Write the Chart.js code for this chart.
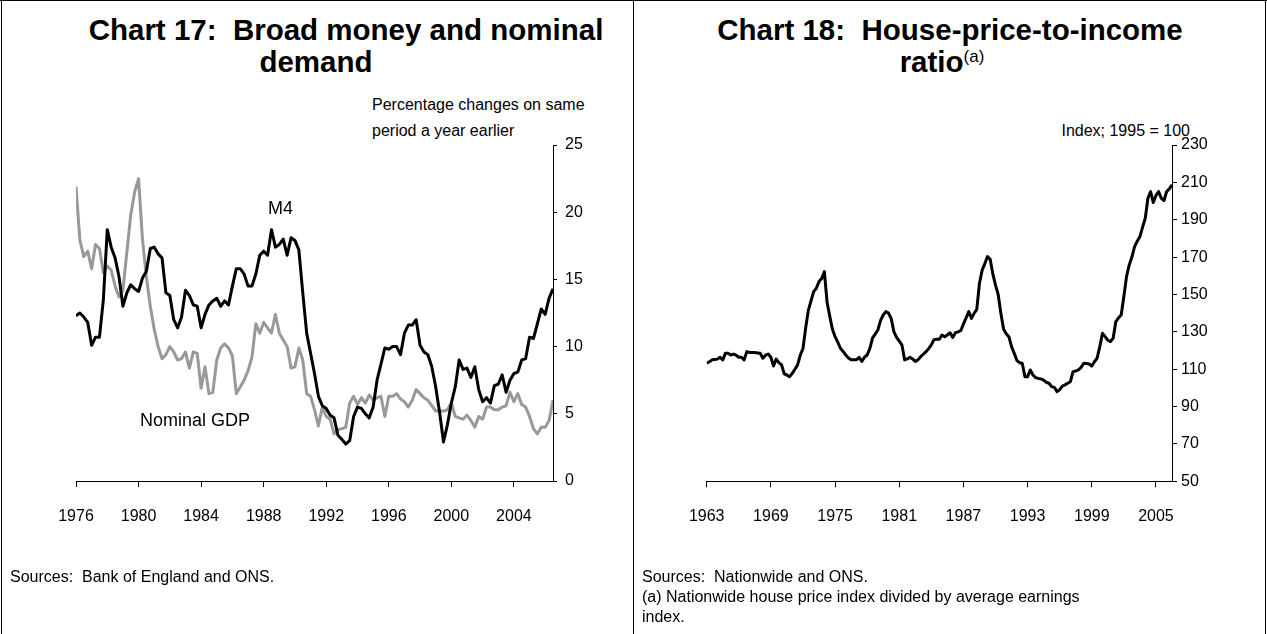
<!DOCTYPE html>
<html>
<head>
<meta charset="utf-8">
<script src="https://cdn.jsdelivr.net/npm/chart.js@4.4.0/dist/chart.umd.min.js"></script>
<style>
  html, body { margin: 0; padding: 0; background: #fff; }
  body { width: 1267px; height: 634px; position: relative; overflow: hidden;
         font-family: Arial, "Liberation Sans", sans-serif; color: #000; }
  .rule { position: absolute; background: #000; }
  .title { position: absolute; font-weight: bold; font-size: 29.5px; line-height: 32px;
           white-space: pre; transform: translateX(-50%); }
  .txt { position: absolute; font-size: 16px; line-height: 20px; white-space: pre; }
  .note { position: absolute; font-size: 18px; line-height: 20px; white-space: pre; }
  canvas { position: absolute; top: 0; }
  sup { font-size: 17px; font-weight: normal; vertical-align: 10px; line-height: 0; }
</style>
</head>
<body>
<div class="rule" style="left:0;top:0;width:1267px;height:1px"></div>
<div class="rule" style="left:1px;top:0;width:1px;height:634px"></div>
<div class="rule" style="left:633px;top:0;width:1px;height:634px"></div>
<div class="rule" style="left:1265px;top:0;width:1px;height:634px"></div>

<div class="title" style="left:346px;top:14px">Chart 17:  Broad money and nominal</div>
<div class="title" style="left:316px;top:46px">demand</div>
<div class="title" style="left:950px;top:14px">Chart 18:  House-price-to-income</div>
<div class="title" style="left:942px;top:46px">ratio<sup>(a)</sup></div>

<div class="txt" style="left:372px;top:95px">Percentage changes on same</div>
<div class="txt" style="left:372px;top:121px">period a year earlier</div>
<div class="txt" style="right:77px;top:121px">Index; 1995 = 100</div>

<canvas id="c17" width="633" height="634" style="left:0"></canvas>
<canvas id="c18" width="634" height="634" style="left:633px"></canvas>

<div class="note" style="left:268px;top:198px">M4</div>
<div class="note" style="left:140px;top:410px">Nominal GDP</div>

<div class="txt" style="left:10px;top:567px">Sources:  Bank of England and ONS.</div>
<div class="txt" style="left:642px;top:567px">Sources:  Nationwide and ONS.
(a) Nationwide house price index divided by average earnings
index.</div>

<script>
// Chart 17: quarterly, first point 1976 Q1
const m4Start = 1976;
const m4Values = [
  12.3, 12.5, 12.2, 11.8,   10.1, 10.7, 10.7, 13.5,   18.7, 17.4, 16.6, 15.2,
  13.0, 14.0, 14.6, 14.3,   14.1, 15.1, 15.6, 17.3,   17.4, 16.9, 16.6, 14.0,
  13.8, 12.0, 11.4, 12.2,   14.2, 13.8, 13.1, 13.0,   11.4, 12.4, 13.1, 13.4,
  13.6, 13.0, 13.4, 13.1,   14.5, 15.8, 15.8, 15.4,   14.5, 14.5, 15.4, 16.8,
  17.1, 16.8, 18.7, 17.4,   17.6, 18.0, 16.8, 18.1,   17.9, 17.2, 14.0, 11.0,
  9.5, 8.0, 6.3, 5.6,       5.4, 4.9, 4.7, 3.4,       3.1, 2.75, 3.0, 4.8,
  5.5, 5.4, 5.0, 4.7,       5.5, 7.5, 8.7, 9.9,       9.8, 10.0, 10.0, 9.4,
  11.0, 11.6, 11.6, 12.0,   10.1, 9.6, 9.4, 8.5,      7.0, 5.1, 2.9, 4.2,
  5.8, 7.0, 9.0, 8.3,       8.4, 7.7, 8.5, 6.8,       5.9, 6.2, 5.8, 7.1,
  7.2, 7.9, 6.6, 7.5,       8.0, 8.1, 9.0, 9.1,       10.7, 10.6, 11.7, 12.8,
  12.4, 13.6, 14.3
];
const gdpValues = [
  21.9, 17.9, 16.7, 17.1,   15.8, 17.6, 17.3, 15.5,   16.0, 15.7, 14.5, 13.7,
  14.2, 17.0, 19.8, 21.5,   22.5, 18.0, 15.2, 13.0,   11.3, 10.0, 9.1, 9.4,
  10.0, 9.6, 9.0, 9.1,      9.6, 8.4, 9.6, 9.5,       6.9, 8.5, 6.5, 6.6,
  9.0, 9.9, 10.2, 9.9,      9.3, 6.5, 7.0, 7.5,       8.2, 9.2, 11.7, 11.0,
  11.8, 11.4, 11.0, 12.4,   11.0, 10.5, 10.0, 8.4,    8.5, 9.9, 9.0, 6.5,
  6.3, 5.3, 4.1, 5.5,       4.8, 4.6, 3.5, 3.8,       3.9, 4.0, 5.8, 6.3,
  5.7, 6.2, 5.8, 6.4,       6.0, 6.2, 6.3, 4.8,       6.3, 6.3, 6.5, 6.1,
  5.9, 5.5, 6.0, 6.8,       6.5, 6.2, 6.0, 5.6,       5.2, 5.2, 5.2, 5.3,
  5.8, 4.8, 4.7, 4.6,       4.9, 4.5, 4.0, 4.8,       4.6, 5.5, 5.5, 5.3,
  5.3, 5.5, 5.6, 6.6,       5.9, 6.5, 5.7, 5.5,       4.8, 3.9, 3.5, 4.0,
  4.0, 4.5, 6.0
];
const c17XTicks = [1976, 1980, 1984, 1988, 1992, 1996, 2000, 2004];
const c17YTicks = [0, 5, 10, 15, 20, 25];

// Chart 18: quarterly, first point 1963 Q1
const houseStart = 1963;
const houseValues = [
  113.2, 114.0, 115.0, 115.2,   115.4, 116.4, 115.0, 118.5,   118.5, 117.6, 118.1, 117.5,
  116.4, 116.4, 115.0, 119.4,   119.0, 118.9, 118.9, 118.7,   118.5, 115.9, 117.5, 118.1,
  116.4, 111.7, 115.4, 113.5,   112.3, 107.5, 106.9, 106.0,   107.8, 110.0, 112.3, 117.6,
  121.0, 132.0, 141.5, 146.5,   151.5, 153.3, 156.9, 158.5,   162.2, 146.0, 138.5, 131.5,
  127.4, 124.5, 121.2, 119.5,   117.6, 116.0, 115.0, 115.0,   115.0, 116.4, 114.1, 116.4,
  117.6, 121.0, 126.6, 128.8,   131.0, 136.0, 139.0, 140.8,   140.0, 137.0, 130.1, 127.0,
  125.0, 123.0, 115.0, 115.5,   116.4, 115.5, 114.1, 115.0,   116.7, 118.0, 119.4, 121.0,
  123.0, 125.8, 126.0, 126.0,   128.3, 127.4, 128.3, 129.5,   127.0, 129.5, 130.0, 130.6,
  134.1, 137.5, 140.8, 137.2,   139.9, 142.0, 156.0, 163.0,   166.5, 170.3, 168.8, 161.0,
  155.0, 150.0, 139.9, 131.5,   129.0, 127.4, 122.1, 118.5,   114.6, 113.5, 113.2, 106.0,
  106.0, 109.6, 106.9, 105.5,   105.1, 104.8, 104.2, 103.0,   102.5, 100.7, 100.3, 98.0,
  99.0, 101.0, 101.6, 102.5,    103.3, 108.7, 109.0, 109.6,   111.0, 113.2, 113.0, 112.8,
  111.7, 114.0, 115.9, 122.1,   129.2, 127.4, 125.5, 124.8,   126.6, 135.5, 137.5, 139.0,
  148.9, 159.6, 165.8, 170.0,   175.6, 178.5, 181.0, 186.0,   190.8, 201.5, 205.1, 199.2,
  203.0, 205.1, 201.5, 200.3,   205.1, 206.5, 208.7
];
const c18XTicks = [1963, 1969, 1975, 1981, 1987, 1993, 1999, 2005];
const c18YTicks = [50, 70, 90, 110, 130, 150, 170, 190, 210, 230];

const FONT = 'Arial, "Liberation Sans", sans-serif';

function quarterly(start, values) {
  return values.map((v, i) => ({ x: start + i / 4, y: v }));
}

// outward tick marks, black axis line, no gridlines
function axis(tickValues, tickLength, padding, extra) {
  return Object.assign({
    type: 'linear',
    afterBuildTicks: s => { s.ticks = tickValues.map(v => ({ value: v })); },
    grid: { drawOnChartArea: false, drawTicks: true, tickLength: tickLength, color: '#000', lineWidth: 1 },
    border: { display: true, color: '#000', width: 1 },
    ticks: { color: '#000', font: { family: FONT, size: 16 }, padding: padding,
             autoSkip: false, maxRotation: 0, callback: v => String(v) }
  }, extra);
}

function lineSet(data, colour) {
  return { data: data, borderColor: colour, borderWidth: 3, pointRadius: 0,
           tension: 0, fill: false, borderJoinStyle: 'round' };
}

const common = {
  responsive: false,
  animation: false,
  devicePixelRatio: 1,
  plugins: { legend: { display: false }, tooltip: { enabled: false } }
};

new Chart(document.getElementById('c17'), {
  type: 'line',
  data: { datasets: [
    lineSet(quarterly(m4Start, m4Values), '#000'),
    lineSet(quarterly(m4Start, gdpValues), '#999')
  ] },
  options: Object.assign({}, common, {
    layout: { padding: { left: 76, top: 145, right: 40, bottom: 103 } },
    scales: {
      x: axis(c17XTicks, 6, 20, { min: 1976, max: 2006.5, afterFit: s => { s.height = 50; } }),
      y: axis(c17YTicks, 4, 8, { position: 'right', min: 0, max: 25, afterFit: s => { s.width = 40; } })
    }
  })
});

new Chart(document.getElementById('c18'), {
  type: 'line',
  data: { datasets: [ lineSet(quarterly(houseStart, houseValues), '#000') ] },
  options: Object.assign({}, common, {
    layout: { padding: { left: 73.7, top: 145, right: 50, bottom: 102.7 } },
    scales: {
      x: axis(c18XTicks, 6, 20, { min: 1963, max: 2006.5, afterFit: s => { s.height = 50; } }),
      y: axis(c18YTicks, 5, 4, { position: 'right', min: 50, max: 230, afterFit: s => { s.width = 45; } })
    }
  })
});
</script>
</body>
</html>
